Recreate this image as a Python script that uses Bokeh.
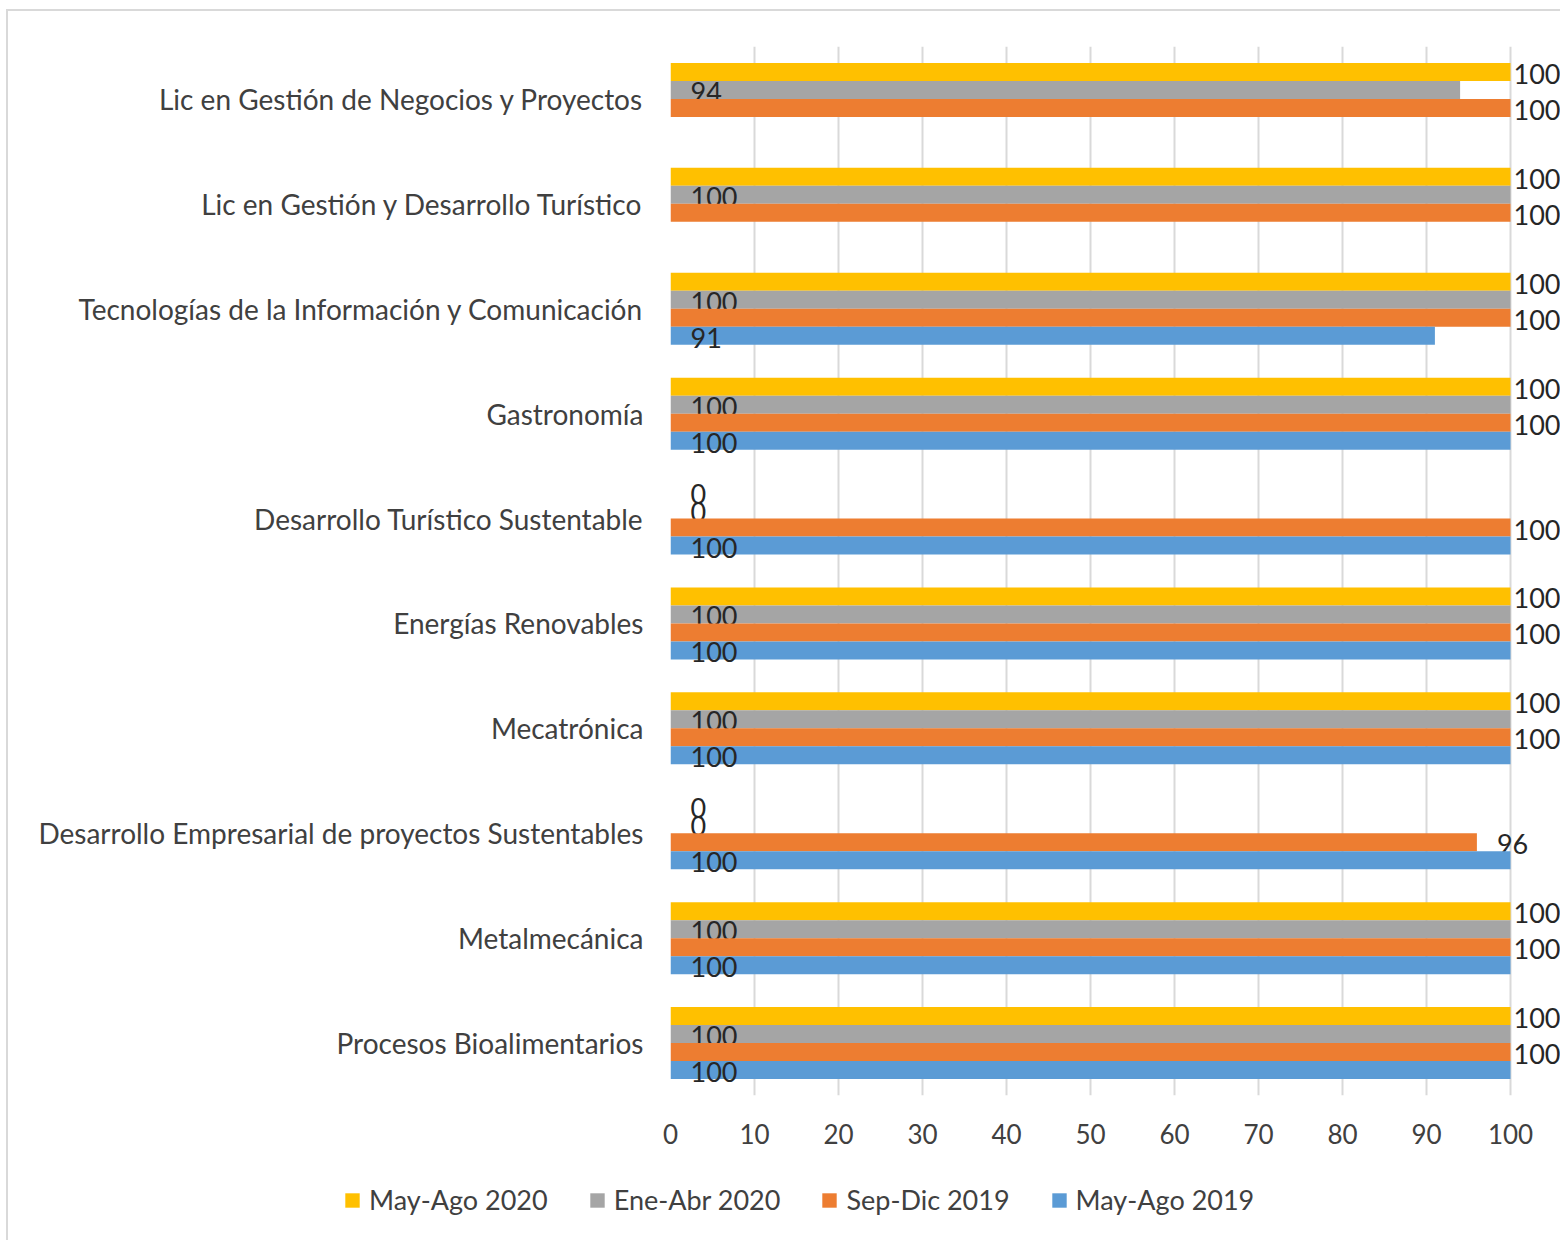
import math
from bokeh.plotting import figure
from bokeh.layouts import column, row
from bokeh.models import ColumnDataSource, FactorRange, Range1d, Legend, LegendItem, FixedTicker
from bokeh.transform import dodge
from bokeh.core.properties import value
from bokeh.embed import file_html
from bokeh.resources import INLINE

NaN = float("nan")

categories = [
    "Lic en Gestión de Negocios y Proyectos",
    "Lic en Gestión y Desarrollo Turístico",
    "Tecnologías de la Información y Comunicación",
    "Gastronomía",
    "Desarrollo Turístico Sustentable",
    "Energías Renovables",
    "Mecatrónica",
    "Desarrollo Empresarial de proyectos Sustentables",
    "Metalmecánica",
    "Procesos Bioalimentarios",
]
series_names = ["May-Ago 2020", "Ene-Abr 2020", "Sep-Dic 2019", "May-Ago 2019"]
may_ago_2020 = [100, 100, 100, 100, 0, 100, 100, 0, 100, 100]
ene_abr_2020 = [94, 100, 100, 100, 0, 100, 100, 0, 100, 100]
sep_dic_2019 = [100, 100, 100, 100, 100, 100, 100, 96, 100, 100]
may_ago_2019 = [NaN, NaN, 91, 100, 100, 100, 100, 100, 100, 100]
x_ticks = [0, 10, 20, 30, 40, 50, 60, 70, 80, 90, 100]

colors = ["#FFC000", "#A5A5A5", "#ED7D31", "#5B9BD5"]
label_mode = ["end", "base", "end", "base"]
FONT = "Lato"

FIG_W = 1552
LEFT = 662
FRAME_W = FIG_W - LEFT
PX_PER_100 = 840  # pixels from 0 to 100

p = figure(
    y_range=FactorRange(factors=list(reversed(categories)), range_padding=0),
    x_range=Range1d(0, 100 * FRAME_W / PX_PER_100),
    frame_width=FRAME_W, frame_height=1049,
    min_border_left=LEFT, min_border_right=0, min_border_top=35, min_border_bottom=75,
    output_backend="svg", toolbar_location=None,
    background_fill_color="white", border_fill_color="white",
)
p.outline_line_color = None

bar_h = 0.1716
offsets = [1.5 * bar_h, 0.5 * bar_h, -0.5 * bar_h, -1.5 * bar_h]
all_series = [may_ago_2020, ene_abr_2020, sep_dic_2019, may_ago_2019]

for name, vals, col, off, mode in zip(series_names, all_series, colors, offsets, label_mode):
    src = ColumnDataSource(dict(cat=categories, val=vals))
    p.hbar(y=dodge("cat", off, range=p.y_range), right="val", left=0,
           height=bar_h, fill_color=col, line_color=None, source=src)

    lc, lx, lxo, lt = [], [], [], []
    for c, v in zip(categories, vals):
        if isinstance(v, float) and math.isnan(v):
            continue
        lc.append(c)
        lt.append(str(int(v)))
        if mode == "base" or v == 0:
            lx.append(0)
            lxo.append(20)
        else:
            lx.append(v)
            lxo.append(3 if v >= 100 else 20)
    lsrc = ColumnDataSource(dict(cat=lc, x=lx, xo=lxo, t=lt))
    p.text(x="x", y=dodge("cat", off, range=p.y_range), text="t", x_offset="xo",
           y_offset=2, text_align="left", text_baseline="middle",
           text_font=value(FONT), text_font_size="27px", text_color="#262626",
           source=lsrc)

p.ygrid.grid_line_color = None
p.xgrid.grid_line_color = "#d9d9d9"
p.xgrid.grid_line_width = 2
p.xaxis.ticker = FixedTicker(ticks=x_ticks)

for ax in (p.xaxis, p.yaxis):
    ax.axis_line_color = None
    ax.major_tick_line_color = None
    ax.minor_tick_line_color = None
    ax.major_label_text_font = FONT
    ax.major_label_text_color = "#404040"
p.xaxis.major_label_text_font_size = "26px"
p.yaxis.major_label_text_font_size = "28px"
p.xaxis.major_label_standoff = 22
p.yaxis.major_label_standoff = 21

# legend strip below the chart
lg = figure(
    width=FIG_W, height=70, x_range=Range1d(0, 1), y_range=Range1d(0, 1),
    min_border=0, output_backend="svg", toolbar_location=None,
    background_fill_color="white", border_fill_color="white",
)
lg.outline_line_color = None
lg.axis.visible = False
lg.grid.visible = False
items = []
for name, col in zip(series_names, colors):
    r = lg.hbar(y=[5], right=[3], left=[2], height=0.1, fill_color=col, line_color=None)
    items.append(LegendItem(label=name, renderers=[r]))
legend = Legend(items=items, orientation="horizontal",
                location=(335, 24), padding=0, margin=0, spacing=40,
                label_standoff=8, glyph_width=18, glyph_height=18,
                label_text_font=FONT, label_text_font_size="27px",
                label_text_color="#404040", border_line_color=None,
                background_fill_alpha=0)
lg.add_layout(legend, "center")

layout = column(p, row(lg, spacing=0), spacing=0)
layout.styles = {"margin-left": "6px", "margin-top": "9px",
                 "border-left": "2px solid #d9d9d9", "border-top": "2px solid #d9d9d9"}

open("out.html", "w").write(file_html(layout, INLINE))
